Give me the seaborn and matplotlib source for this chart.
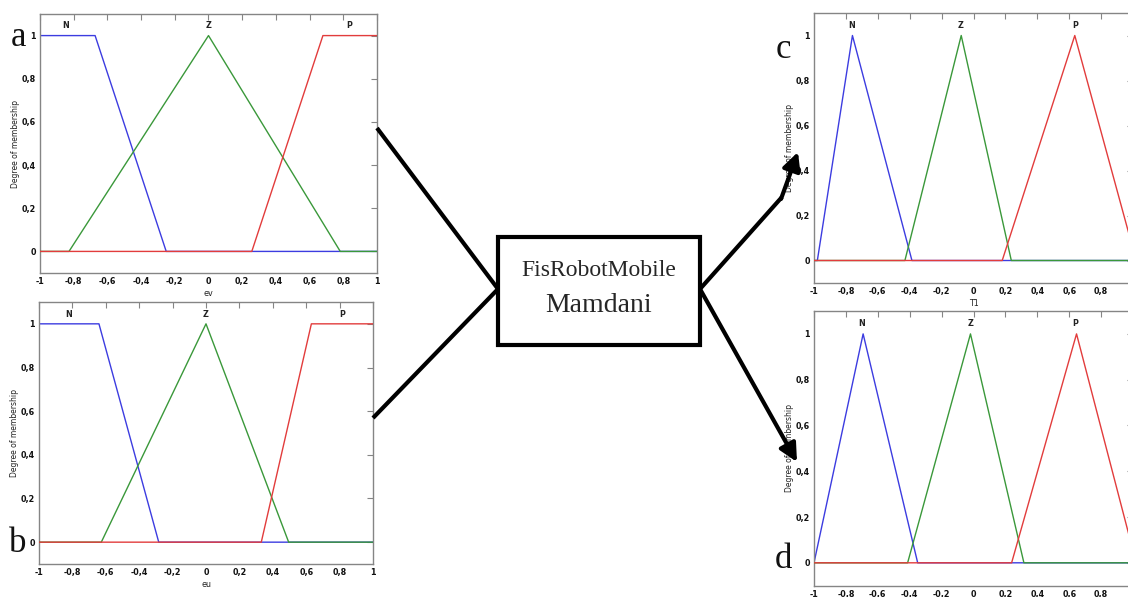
import matplotlib
matplotlib.use("Agg")
import matplotlib.pyplot as plt
import seaborn as sns
from matplotlib.patches import Rectangle

# ---------------- data (membership-function vertices) ----------------
mf_names = ["N", "Z", "P"]
x_ticks = [-1.0, -0.8, -0.6, -0.4, -0.2, 0.0, 0.2, 0.4, 0.6, 0.8, 1.0]
y_ticks = [0.0, 0.2, 0.4, 0.6, 0.8, 1.0]

# panel a : input ev
a_N_x = [-1.0, -0.673, -0.251, 1.0]
a_N_y = [1.0, 1.0, 0.0, 0.0]
a_Z_x = [-1.0, -0.828, 0.0, 0.782, 1.0]
a_Z_y = [0.0, 0.0, 1.0, 0.0, 0.0]
a_P_x = [-1.0, 0.257, 0.679, 1.0]
a_P_y = [0.0, 0.0, 1.0, 1.0]
a_label_x = [-0.846, 0.0, 0.834]

# panel b : input eu
b_N_x = [-1.0, -0.641, -0.283, 1.0]
b_N_y = [1.0, 1.0, 0.0, 0.0]
b_Z_x = [-1.0, -0.627, 0.0, 0.495, 1.0]
b_Z_y = [0.0, 0.0, 1.0, 0.0, 0.0]
b_P_x = [-1.0, 0.331, 0.631, 1.0]
b_P_y = [0.0, 0.0, 1.0, 1.0]
b_label_x = [-0.824, 0.0, 0.813]

# panel c : output T1
c_N_x = [-1.0, -0.979, -0.759, -0.386, 1.0]
c_N_y = [0.0, 0.0, 1.0, 0.0, 0.0]
c_Z_x = [-1.0, -0.43, -0.077, 0.237, 1.0]
c_Z_y = [0.0, 0.0, 1.0, 0.0, 0.0]
c_P_x = [-1.0, 0.18, 0.635, 1.02]
c_P_y = [0.0, 0.0, 1.0, 0.0]
c_label_x = [-0.763, -0.08, 0.635]

# panel d : output T1
d_N_x = [-1.0, -0.692, -0.35, 1.0]
d_N_y = [0.0, 1.0, 0.0, 0.0]
d_Z_x = [-1.0, -0.413, -0.019, 0.316, 1.0]
d_Z_y = [0.0, 0.0, 1.0, 0.0, 0.0]
d_P_x = [-1.0, 0.239, 0.646, 1.02]
d_P_y = [0.0, 0.0, 1.0, 0.0]
d_label_x = [-0.70, -0.02, 0.64]

box_lines = ["FisRobotMobile", "Mamdani"]

# ---------------- style ----------------
sns.set_theme(style="white")
plt.rcParams["font.family"] = ["DejaVu Sans"]

W, H = 1128, 597
fig = plt.figure(figsize=(W / 100, H / 100), dpi=100)
fig.patch.set_facecolor("white")

COL_N = "#3c3ce0"
COL_Z = "#3a983a"
COL_P = "#e23c3c"
FRAME = "#858585"


def rect(l, t, r, b):
    return [l / W, 1 - b / H, (r - l) / W, (b - t) / H]


def fmt(v):
    if abs(v) < 1e-9:
        return "0"
    if abs(abs(v) - 1) < 1e-9:
        return "-1" if v < 0 else "1"
    return ("%.1f" % v).replace(".", ",")


def panel(r, mfs, label_x, xlabel, letter, letter_xy, cut_right=False):
    ax = fig.add_axes(r)
    (nx, ny), (zx, zy), (px, py) = mfs
    sns.lineplot(x=nx, y=ny, ax=ax, color=COL_N, lw=1.0, sort=False, estimator=None, zorder=2)
    sns.lineplot(x=zx, y=zy, ax=ax, color=COL_Z, lw=1.0, sort=False, estimator=None, zorder=3)
    sns.lineplot(x=px, y=py, ax=ax, color=COL_P, lw=1.0, sort=False, estimator=None, zorder=4)
    ax.set_xlim(-1, 1)
    ax.set_ylim(-0.1, 1.1)
    ax.set_xticks(x_ticks)
    labels = [fmt(v) for v in x_ticks]
    if cut_right:
        labels[-1] = ""
    ax.set_xticklabels(labels)
    ax.set_yticks(y_ticks)
    ax.set_yticklabels([fmt(v) for v in y_ticks])
    ax.tick_params(direction="in", length=4, width=0.8, color=FRAME,
                   top=True, right=True, labelsize=5.8, pad=3, labelcolor="#111111")
    for lab in ax.get_xticklabels() + ax.get_yticklabels():
        lab.set_fontweight("bold")
    for s in ax.spines.values():
        s.set_color(FRAME)
        s.set_linewidth(1.0)
    if xlabel:
        ax.set_xlabel(xlabel, fontsize=5.8, labelpad=2, color="#222222")
    ax.set_ylabel("Degree of membership", fontsize=5.5, labelpad=1, color="#222222")
    for name, lx in zip(mf_names, label_x):
        ax.text(lx, 1.045, name, fontsize=5.8, fontweight="bold", ha="center", va="center",
                color="#222222")
    fig.text(letter_xy[0] / W, 1 - letter_xy[1] / H, letter, fontsize=25,
             family="Liberation Serif", ha="center", va="center", color="#111111")
    ax.set_facecolor("white")
    return ax


panel(rect(40, 14, 377, 273), [(a_N_x, a_N_y), (a_Z_x, a_Z_y), (a_P_x, a_P_y)],
      a_label_x, "ev", "a", (19, 37))
panel(rect(39, 302, 373, 564), [(b_N_x, b_N_y), (b_Z_x, b_Z_y), (b_P_x, b_P_y)],
      b_label_x, "eu", "b", (18, 543))
panel(rect(814, 13, 1133, 283), [(c_N_x, c_N_y), (c_Z_x, c_Z_y), (c_P_x, c_P_y)],
      c_label_x, "T1", "c", (783, 49), cut_right=True)
panel(rect(814, 311, 1133, 585.7), [(d_N_x, d_N_y), (d_Z_x, d_Z_y), (d_P_x, d_P_y)],
      d_label_x, None, "d", (783, 560), cut_right=True)

# ---------------- overlay diagram (box + connectors) ----------------
ov = fig.add_axes([0, 0, 1, 1], zorder=10)
ov.set_xlim(0, W)
ov.set_ylim(H, 0)
ov.axis("off")
ov.patch.set_alpha(0)

box_l, box_t, box_r, box_b = 498, 237, 700, 345
ov.add_patch(Rectangle((box_l, box_t), box_r - box_l, box_b - box_t, fill=True,
                       facecolor="white", edgecolor="black", lw=3.0, zorder=5))
ov.text((box_l + box_r) / 2, 271, box_lines[0], fontsize=17, family="Liberation Serif",
        ha="center", va="center", zorder=6)
ov.text((box_l + box_r) / 2, 305, box_lines[1], fontsize=20, family="Liberation Serif",
        ha="center", va="center", zorder=6)

lw_c = 3.0
ov.plot([377, 498], [128, 289], color="black", lw=lw_c, solid_capstyle="butt", zorder=4)
ov.plot([373, 498], [418, 289], color="black", lw=lw_c, solid_capstyle="butt", zorder=4)
ov.plot([700, 782], [289, 197], color="black", lw=lw_c, solid_capstyle="butt", zorder=4)
ov.annotate("", xy=(798, 152), xytext=(781, 199),
            arrowprops=dict(arrowstyle="-|>,head_length=0.9,head_width=0.45",
                            color="black", lw=lw_c, shrinkA=0, shrinkB=0), zorder=4)
ov.annotate("", xy=(797, 462), xytext=(700, 289),
            arrowprops=dict(arrowstyle="-|>,head_length=0.9,head_width=0.45",
                            color="black", lw=lw_c, shrinkA=0, shrinkB=0), zorder=4)

fig.savefig("out.png", dpi=100, facecolor="white")
